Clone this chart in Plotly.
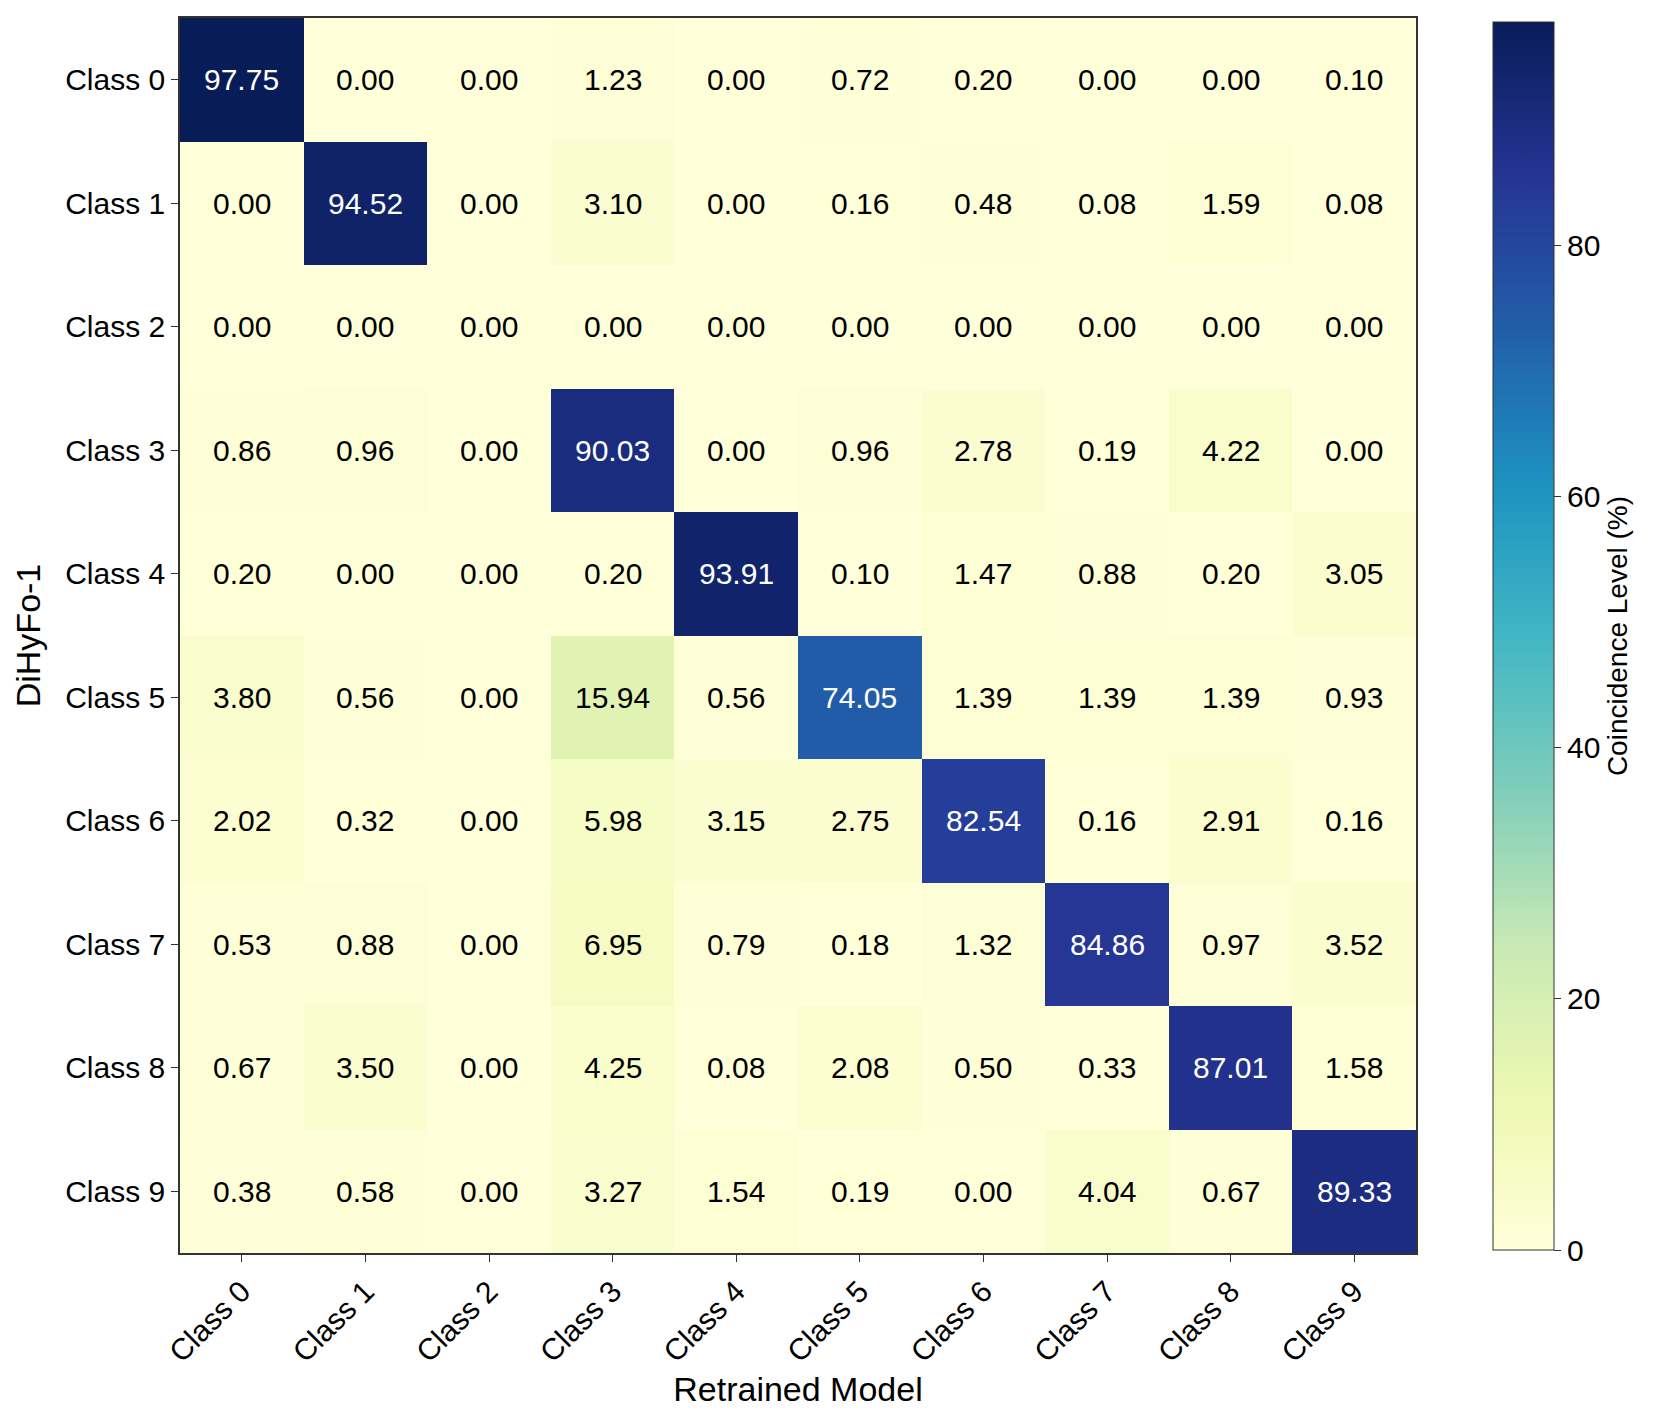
import plotly.graph_objects as go

classes = ["Class " + str(i) for i in range(10)]

# rows = DiHyFo-1 class, cols = retrained model class
row0 = [97.75, 0.00, 0.00, 1.23, 0.00, 0.72, 0.20, 0.00, 0.00, 0.10]
row1 = [0.00, 94.52, 0.00, 3.10, 0.00, 0.16, 0.48, 0.08, 1.59, 0.08]
row2 = [0.00, 0.00, 0.00, 0.00, 0.00, 0.00, 0.00, 0.00, 0.00, 0.00]
row3 = [0.86, 0.96, 0.00, 90.03, 0.00, 0.96, 2.78, 0.19, 4.22, 0.00]
row4 = [0.20, 0.00, 0.00, 0.20, 93.91, 0.10, 1.47, 0.88, 0.20, 3.05]
row5 = [3.80, 0.56, 0.00, 15.94, 0.56, 74.05, 1.39, 1.39, 1.39, 0.93]
row6 = [2.02, 0.32, 0.00, 5.98, 3.15, 2.75, 82.54, 0.16, 2.91, 0.16]
row7 = [0.53, 0.88, 0.00, 6.95, 0.79, 0.18, 1.32, 84.86, 0.97, 3.52]
row8 = [0.67, 3.50, 0.00, 4.25, 0.08, 2.08, 0.50, 0.33, 87.01, 1.58]
row9 = [0.38, 0.58, 0.00, 3.27, 1.54, 0.19, 0.00, 4.04, 0.67, 89.33]

z = [row0, row1, row2, row3, row4, row5, row6, row7, row8, row9]

ylgnbu = ["#ffffd9", "#edf8b1", "#c7e9b4", "#7fcdbb", "#41b6c4",
          "#1d91c0", "#225ea8", "#253494", "#081d58"]
cscale = [[i / (len(ylgnbu) - 1), c] for i, c in enumerate(ylgnbu)]

zmax = max(max(r) for r in z)

fig = go.Figure()
fig.add_trace(go.Heatmap(
    z=z, x=classes, y=classes,
    colorscale=cscale, zmin=0, zmax=zmax,
    hoverinfo="x+y+z",
    colorbar=dict(
        title=dict(text="Coincidence Level (%)", side="right",
                   font=dict(size=28, color="black")),
        tickvals=[0, 20, 40, 60, 80],
        ticks="outside", ticklen=7, tickwidth=1, tickcolor="#333",
        tickfont=dict(size=30, color="black"),
        outlinewidth=1, outlinecolor="#333",
        thickness=61, thicknessmode="pixels",
        len=0.994, lenmode="fraction",
        x=1.0623, xanchor="left", xpad=0,
        y=0.0024, yanchor="bottom", ypad=0,
    ),
))

# cell annotations, white text on dark cells
for i, row in enumerate(z):
    for j, v in enumerate(row):
        fig.add_annotation(
            x=classes[j], y=classes[i], text="%.2f" % v, showarrow=False,
            font=dict(size=30, color="white" if v > zmax / 2 else "black"),
        )

# page body has an 8px margin, so the margins are offset by that
fig.update_layout(
    width=1661, height=1424,
    margin=dict(l=172, r=253, t=10, b=179, autoexpand=False),
    paper_bgcolor="white", plot_bgcolor="white",
    font=dict(family="Liberation Sans, Arial, sans-serif", color="black"),
    xaxis=dict(
        title=dict(text="Retrained Model", font=dict(size=34), standoff=10),
        tickangle=-45, tickfont=dict(size=30),
        ticks="outside", ticklen=7, tickcolor="#333",
        showline=True, linecolor="#333", linewidth=1.5, mirror=True,
        showgrid=False, zeroline=False,
    ),
    yaxis=dict(
        title=dict(text="DiHyFo-1", font=dict(size=34), standoff=14),
        autorange="reversed", tickfont=dict(size=30),
        ticks="outside", ticklen=7, tickcolor="#333",
        showline=True, linecolor="#333", linewidth=1.5, mirror=True,
        showgrid=False, zeroline=False,
    ),
)

fig.write_html("out.html")
